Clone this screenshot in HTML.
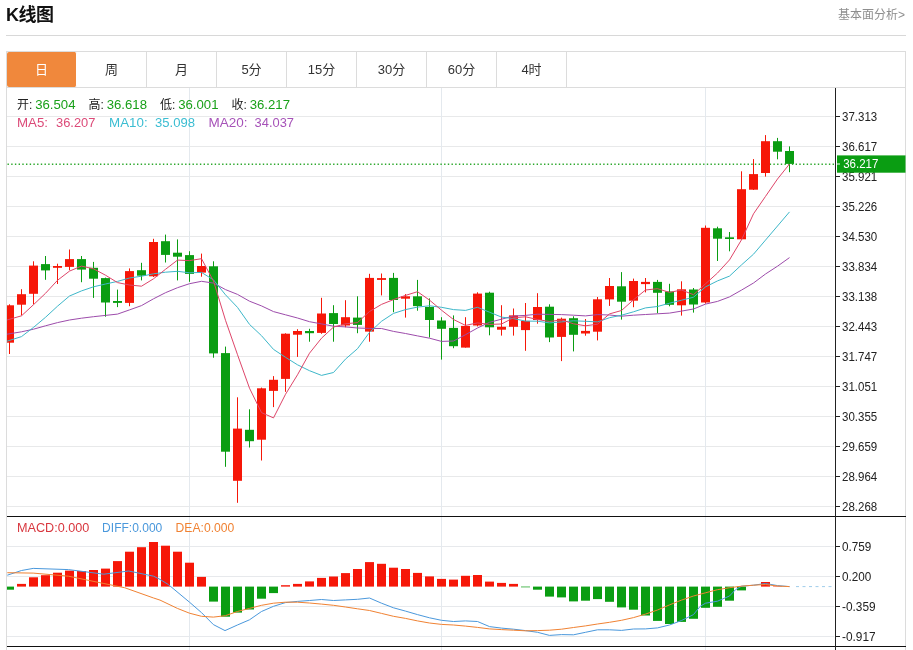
<!DOCTYPE html>
<html lang="zh-CN">
<head>
<meta charset="utf-8">
<title>K线图</title>
<style>
html,body{margin:0;padding:0;background:#fff;}
body{width:913px;height:650px;overflow:hidden;position:relative;font-family:"Liberation Sans","Noto Sans CJK SC",sans-serif;color:#333;}
.title{position:absolute;left:6px;top:2px;font-size:18px;font-weight:bold;color:#111;line-height:26px;letter-spacing:-0.5px;}
.more{position:absolute;right:8px;top:5.5px;font-size:12px;color:#8e8e8e;line-height:18px;}
.hr{position:absolute;left:6px;top:35px;width:900px;height:1px;background:#d8d8d8;}
.box{position:absolute;left:6px;top:51px;width:898px;height:620px;border:1px solid #dcdcdc;border-bottom:none;}
.tabs{position:absolute;left:7px;top:52px;width:898px;height:35px;border-bottom:1px solid #dcdcdc;}
.tab{float:left;width:69px;height:35px;line-height:35px;text-align:center;font-size:13px;color:#333;border-right:1px solid #dcdcdc;}
.tab.on{background:#f0883c;color:#fff;border-radius:2px;border-right-color:#fff;}
svg{position:absolute;left:0;top:0;}
.ax{font-size:12px;fill:#222;font-family:"Liberation Sans","Noto Sans CJK SC",sans-serif;}
.lg{font-size:13px;font-family:"Liberation Sans","Noto Sans CJK SC",sans-serif;}
</style>
</head>
<body>
<div class="title">K线图</div>
<div class="more">基本面分析&gt;</div>
<div class="hr"></div>
<div class="box"></div>
<div class="tabs"><div class="tab on">日</div><div class="tab">周</div><div class="tab">月</div><div class="tab">5分</div><div class="tab">15分</div><div class="tab">30分</div><div class="tab">60分</div><div class="tab">4时</div></div>
<svg width="913" height="650" viewBox="0 0 913 650">
<line x1="7" y1="116.5" x2="834" y2="116.5" stroke="#e8e9ea" stroke-width="1"/>
<line x1="7" y1="146.5" x2="834" y2="146.5" stroke="#e8e9ea" stroke-width="1"/>
<line x1="7" y1="176.5" x2="834" y2="176.5" stroke="#e8e9ea" stroke-width="1"/>
<line x1="7" y1="206.5" x2="834" y2="206.5" stroke="#e8e9ea" stroke-width="1"/>
<line x1="7" y1="236.5" x2="834" y2="236.5" stroke="#e8e9ea" stroke-width="1"/>
<line x1="7" y1="266.5" x2="834" y2="266.5" stroke="#e8e9ea" stroke-width="1"/>
<line x1="7" y1="296.5" x2="834" y2="296.5" stroke="#e8e9ea" stroke-width="1"/>
<line x1="7" y1="326.5" x2="834" y2="326.5" stroke="#e8e9ea" stroke-width="1"/>
<line x1="7" y1="356.5" x2="834" y2="356.5" stroke="#e8e9ea" stroke-width="1"/>
<line x1="7" y1="386.5" x2="834" y2="386.5" stroke="#e8e9ea" stroke-width="1"/>
<line x1="7" y1="416.5" x2="834" y2="416.5" stroke="#e8e9ea" stroke-width="1"/>
<line x1="7" y1="446.5" x2="834" y2="446.5" stroke="#e8e9ea" stroke-width="1"/>
<line x1="7" y1="476.5" x2="834" y2="476.5" stroke="#e8e9ea" stroke-width="1"/>
<line x1="7" y1="506.5" x2="834" y2="506.5" stroke="#e8e9ea" stroke-width="1"/>
<line x1="7" y1="546.5" x2="834" y2="546.5" stroke="#e7e9ec" stroke-width="1"/>
<line x1="7" y1="576.5" x2="834" y2="576.5" stroke="#e7e9ec" stroke-width="1"/>
<line x1="7" y1="606.5" x2="834" y2="606.5" stroke="#e7e9ec" stroke-width="1"/>
<line x1="7" y1="636.5" x2="834" y2="636.5" stroke="#e7e9ec" stroke-width="1"/>
<line x1="189.5" y1="88" x2="189.5" y2="650" stroke="#e4e9ee" stroke-width="1"/>
<line x1="441.5" y1="88" x2="441.5" y2="650" stroke="#e4e9ee" stroke-width="1"/>
<line x1="705.5" y1="88" x2="705.5" y2="650" stroke="#e4e9ee" stroke-width="1"/>
<line x1="7.5" y1="164.2" x2="834" y2="164.2" stroke="#2da82d" stroke-width="1.4" stroke-dasharray="1.4 2.3"/>
<rect x="9" y="304.3" width="1" height="49.7" fill="#f61708"/>
<rect x="7" y="305.3" width="7" height="37.4" fill="#f61708"/>
<rect x="21" y="289.2" width="1" height="26.2" fill="#f61708"/>
<rect x="17" y="294.2" width="9" height="10.5" fill="#f61708"/>
<rect x="33" y="261.3" width="1" height="43.0" fill="#f61708"/>
<rect x="29" y="265.6" width="9" height="28.2" fill="#f61708"/>
<rect x="45" y="256.0" width="1" height="23.8" fill="#0a9d12"/>
<rect x="41" y="264.1" width="9" height="6.3" fill="#0a9d12"/>
<rect x="57" y="263.7" width="1" height="20.3" fill="#f61708"/>
<rect x="53" y="266.0" width="9" height="1.8" fill="#f61708"/>
<rect x="69" y="249.5" width="1" height="20.7" fill="#f61708"/>
<rect x="65" y="259.1" width="9" height="7.8" fill="#f61708"/>
<rect x="81" y="256.0" width="1" height="26.2" fill="#0a9d12"/>
<rect x="77" y="259.1" width="9" height="10.5" fill="#0a9d12"/>
<rect x="93" y="261.9" width="1" height="36.0" fill="#0a9d12"/>
<rect x="89" y="267.8" width="9" height="10.9" fill="#0a9d12"/>
<rect x="105" y="277.6" width="1" height="39.1" fill="#0a9d12"/>
<rect x="101" y="278.1" width="9" height="24.4" fill="#0a9d12"/>
<rect x="117" y="289.6" width="1" height="17.5" fill="#0a9d12"/>
<rect x="113" y="301.0" width="9" height="1.9" fill="#0a9d12"/>
<rect x="129" y="268.4" width="1" height="37.8" fill="#f61708"/>
<rect x="125" y="271.1" width="9" height="31.8" fill="#f61708"/>
<rect x="141" y="262.8" width="1" height="17.6" fill="#0a9d12"/>
<rect x="137" y="270.2" width="9" height="5.5" fill="#0a9d12"/>
<rect x="153" y="238.8" width="1" height="38.2" fill="#f61708"/>
<rect x="149" y="242.0" width="9" height="34.3" fill="#f61708"/>
<rect x="165" y="234.6" width="1" height="27.9" fill="#0a9d12"/>
<rect x="161" y="241.2" width="9" height="13.7" fill="#0a9d12"/>
<rect x="177" y="239.4" width="1" height="41.0" fill="#0a9d12"/>
<rect x="173" y="252.7" width="9" height="4.0" fill="#0a9d12"/>
<rect x="189" y="251.2" width="1" height="30.6" fill="#0a9d12"/>
<rect x="185" y="255.1" width="9" height="18.8" fill="#0a9d12"/>
<rect x="201" y="253.6" width="1" height="23.1" fill="#f61708"/>
<rect x="197" y="266.0" width="9" height="6.6" fill="#f61708"/>
<rect x="213" y="261.3" width="1" height="96.4" fill="#0a9d12"/>
<rect x="209" y="266.3" width="9" height="87.1" fill="#0a9d12"/>
<rect x="225" y="346.6" width="1" height="120.2" fill="#0a9d12"/>
<rect x="221" y="353.1" width="9" height="98.6" fill="#0a9d12"/>
<rect x="237" y="397.3" width="1" height="105.5" fill="#f61708"/>
<rect x="233" y="428.6" width="9" height="52.2" fill="#f61708"/>
<rect x="249" y="409.3" width="1" height="38.2" fill="#0a9d12"/>
<rect x="245" y="429.8" width="9" height="11.4" fill="#0a9d12"/>
<rect x="261" y="387.6" width="1" height="72.9" fill="#f61708"/>
<rect x="257" y="388.3" width="9" height="51.4" fill="#f61708"/>
<rect x="273" y="376.1" width="1" height="31.0" fill="#f61708"/>
<rect x="269" y="379.8" width="9" height="11.1" fill="#f61708"/>
<rect x="285" y="333.3" width="1" height="58.5" fill="#f61708"/>
<rect x="281" y="333.7" width="9" height="45.2" fill="#f61708"/>
<rect x="297" y="329.2" width="1" height="27.7" fill="#f61708"/>
<rect x="293" y="331.0" width="9" height="3.7" fill="#f61708"/>
<rect x="309" y="328.8" width="1" height="12.9" fill="#0a9d12"/>
<rect x="305" y="331.0" width="9" height="2.2" fill="#0a9d12"/>
<rect x="321" y="297.8" width="1" height="36.0" fill="#f61708"/>
<rect x="317" y="313.5" width="9" height="19.4" fill="#f61708"/>
<rect x="333" y="305.2" width="1" height="36.5" fill="#0a9d12"/>
<rect x="329" y="313.1" width="9" height="10.9" fill="#0a9d12"/>
<rect x="345" y="300.2" width="1" height="27.1" fill="#f61708"/>
<rect x="341" y="317.2" width="9" height="8.3" fill="#f61708"/>
<rect x="357" y="296.3" width="1" height="36.9" fill="#0a9d12"/>
<rect x="353" y="317.6" width="9" height="7.3" fill="#0a9d12"/>
<rect x="369" y="273.8" width="1" height="67.9" fill="#f61708"/>
<rect x="365" y="277.9" width="9" height="53.7" fill="#f61708"/>
<rect x="381" y="273.5" width="1" height="21.9" fill="#f61708"/>
<rect x="377" y="278.1" width="9" height="1.8" fill="#f61708"/>
<rect x="393" y="272.9" width="1" height="39.3" fill="#0a9d12"/>
<rect x="389" y="277.9" width="9" height="22.1" fill="#0a9d12"/>
<rect x="405" y="294.1" width="1" height="23.5" fill="#f61708"/>
<rect x="401" y="296.3" width="9" height="2.4" fill="#f61708"/>
<rect x="417" y="279.9" width="1" height="30.8" fill="#0a9d12"/>
<rect x="413" y="296.3" width="9" height="9.8" fill="#0a9d12"/>
<rect x="429" y="298.4" width="1" height="39.1" fill="#0a9d12"/>
<rect x="425" y="307.0" width="9" height="13.0" fill="#0a9d12"/>
<rect x="441" y="317.2" width="1" height="42.4" fill="#0a9d12"/>
<rect x="437" y="320.5" width="9" height="8.3" fill="#0a9d12"/>
<rect x="453" y="315.4" width="1" height="32.8" fill="#0a9d12"/>
<rect x="449" y="327.9" width="9" height="18.3" fill="#0a9d12"/>
<rect x="465" y="317.2" width="1" height="30.4" fill="#f61708"/>
<rect x="461" y="325.9" width="9" height="21.7" fill="#f61708"/>
<rect x="477" y="292.3" width="1" height="34.1" fill="#f61708"/>
<rect x="473" y="293.6" width="9" height="31.9" fill="#f61708"/>
<rect x="489" y="291.7" width="1" height="43.6" fill="#0a9d12"/>
<rect x="485" y="292.7" width="9" height="34.6" fill="#0a9d12"/>
<rect x="501" y="305.2" width="1" height="30.4" fill="#f61708"/>
<rect x="497" y="326.8" width="9" height="2.9" fill="#f61708"/>
<rect x="513" y="308.5" width="1" height="27.1" fill="#f61708"/>
<rect x="509" y="315.4" width="9" height="11.4" fill="#f61708"/>
<rect x="525" y="303.0" width="1" height="47.8" fill="#f61708"/>
<rect x="521" y="320.9" width="9" height="9.2" fill="#f61708"/>
<rect x="537" y="293.2" width="1" height="30.5" fill="#f61708"/>
<rect x="533" y="307.0" width="9" height="13.0" fill="#f61708"/>
<rect x="549" y="304.3" width="1" height="37.8" fill="#0a9d12"/>
<rect x="545" y="306.7" width="9" height="30.8" fill="#0a9d12"/>
<rect x="561" y="317.6" width="1" height="43.5" fill="#f61708"/>
<rect x="557" y="318.7" width="9" height="18.2" fill="#f61708"/>
<rect x="573" y="316.3" width="1" height="35.1" fill="#0a9d12"/>
<rect x="569" y="318.2" width="9" height="16.6" fill="#0a9d12"/>
<rect x="585" y="319.0" width="1" height="16.7" fill="#f61708"/>
<rect x="581" y="330.9" width="9" height="2.6" fill="#f61708"/>
<rect x="597" y="297.0" width="1" height="43.4" fill="#f61708"/>
<rect x="593" y="299.3" width="9" height="32.4" fill="#f61708"/>
<rect x="609" y="278.0" width="1" height="27.9" fill="#f61708"/>
<rect x="605" y="286.0" width="9" height="13.4" fill="#f61708"/>
<rect x="621" y="272.1" width="1" height="47.5" fill="#0a9d12"/>
<rect x="617" y="286.3" width="9" height="15.4" fill="#0a9d12"/>
<rect x="633" y="278.6" width="1" height="28.6" fill="#f61708"/>
<rect x="629" y="281.0" width="9" height="19.7" fill="#f61708"/>
<rect x="645" y="278.0" width="1" height="14.4" fill="#f61708"/>
<rect x="641" y="281.9" width="9" height="2.2" fill="#f61708"/>
<rect x="657" y="279.9" width="1" height="33.4" fill="#0a9d12"/>
<rect x="653" y="281.9" width="9" height="10.9" fill="#0a9d12"/>
<rect x="669" y="283.8" width="1" height="22.5" fill="#0a9d12"/>
<rect x="665" y="291.5" width="9" height="13.3" fill="#0a9d12"/>
<rect x="681" y="281.3" width="1" height="34.3" fill="#f61708"/>
<rect x="677" y="289.3" width="9" height="16.0" fill="#f61708"/>
<rect x="693" y="288.0" width="1" height="24.6" fill="#0a9d12"/>
<rect x="689" y="289.5" width="9" height="15.0" fill="#0a9d12"/>
<rect x="705" y="225.5" width="1" height="78.1" fill="#f61708"/>
<rect x="701" y="227.8" width="9" height="74.7" fill="#f61708"/>
<rect x="717" y="226.7" width="1" height="34.3" fill="#0a9d12"/>
<rect x="713" y="228.3" width="9" height="10.4" fill="#0a9d12"/>
<rect x="729" y="232.0" width="1" height="19.3" fill="#0a9d12"/>
<rect x="725" y="237.3" width="9" height="1.7" fill="#0a9d12"/>
<rect x="741" y="171.3" width="1" height="68.4" fill="#f61708"/>
<rect x="737" y="189.2" width="9" height="50.1" fill="#f61708"/>
<rect x="753" y="159.1" width="1" height="30.9" fill="#f61708"/>
<rect x="749" y="174.1" width="9" height="15.6" fill="#f61708"/>
<rect x="765" y="135.1" width="1" height="41.5" fill="#f61708"/>
<rect x="761" y="141.2" width="9" height="31.8" fill="#f61708"/>
<rect x="777" y="137.9" width="1" height="21.4" fill="#0a9d12"/>
<rect x="773" y="141.2" width="9" height="10.5" fill="#0a9d12"/>
<rect x="789" y="146.4" width="1" height="25.8" fill="#0a9d12"/>
<rect x="785" y="151.0" width="9" height="12.9" fill="#0a9d12"/>
<path d="M7.0 334.2L21.5 331.8L33.5 329.2L45.5 325.8L57.5 322.6L69.5 320.0L81.5 318.2L93.5 316.7L105.5 315.4L117.5 314.1L129.5 309.9L141.5 305.6L153.5 298.8L165.5 292.7L177.5 287.7L189.5 283.7L201.5 281.3L213.5 283.1L225.5 289.6L237.5 294.4L249.5 301.2L261.5 305.9L273.5 311.6L285.5 314.8L297.5 318.0L309.5 321.7L321.5 323.9L333.5 326.2L345.5 326.9L357.5 328.0L369.5 328.4L381.5 328.5L393.5 331.4L405.5 333.5L417.5 335.9L429.5 338.2L441.5 341.4L453.5 341.0L465.5 334.7L477.5 328.0L489.5 322.3L501.5 319.2L513.5 316.0L525.5 315.4L537.5 314.2L549.5 314.4L561.5 314.6L573.5 315.2L585.5 315.9L597.5 314.6L609.5 315.0L621.5 316.2L633.5 315.2L645.5 314.5L657.5 313.8L669.5 313.1L681.5 311.1L693.5 309.0L705.5 304.1L717.5 301.4L729.5 296.9L741.5 290.1L753.5 283.0L765.5 274.0L777.5 266.2L789.5 257.6" fill="none" stroke="#9d4cab" stroke-width="1" stroke-linejoin="round"/>
<path d="M7.0 341.2L21.5 336.6L33.5 327.4L45.5 317.3L57.5 306.2L69.5 296.0L81.5 290.9L93.5 286.8L105.5 284.0L117.5 281.4L129.5 278.0L141.5 276.2L153.5 273.8L165.5 272.2L177.5 271.3L189.5 272.8L201.5 272.4L213.5 279.9L225.5 294.8L237.5 307.4L249.5 324.4L261.5 335.7L273.5 349.4L285.5 357.3L297.5 364.8L309.5 370.7L321.5 375.4L333.5 372.5L345.5 359.1L357.5 348.7L369.5 332.4L381.5 321.3L393.5 313.4L405.5 309.6L417.5 307.1L429.5 305.8L441.5 307.3L453.5 309.6L465.5 310.4L477.5 307.3L489.5 312.2L501.5 317.1L513.5 318.6L525.5 321.1L537.5 321.2L549.5 322.9L561.5 321.9L573.5 320.8L585.5 321.3L597.5 321.9L609.5 317.7L621.5 315.2L633.5 311.8L645.5 307.9L657.5 306.5L669.5 303.2L681.5 300.2L693.5 297.2L705.5 286.9L717.5 280.9L729.5 276.1L741.5 264.9L753.5 254.2L765.5 240.1L777.5 226.0L789.5 211.9" fill="none" stroke="#3db7c9" stroke-width="1" stroke-linejoin="round"/>
<path d="M7.0 320.0L21.5 315.8L33.5 304.7L45.5 293.3L57.5 280.3L69.5 271.1L81.5 266.1L93.5 268.8L105.5 275.2L117.5 282.6L129.5 285.0L141.5 286.2L153.5 278.8L165.5 269.3L177.5 260.1L189.5 260.6L201.5 258.7L213.5 281.0L225.5 320.3L237.5 354.7L249.5 388.2L261.5 412.6L273.5 417.9L285.5 394.3L297.5 374.8L309.5 353.2L321.5 338.2L333.5 327.1L345.5 323.8L357.5 322.6L369.5 311.5L381.5 304.4L393.5 299.6L405.5 295.4L417.5 291.7L429.5 300.1L441.5 310.2L453.5 319.5L465.5 325.4L477.5 322.9L489.5 324.4L501.5 324.0L513.5 317.8L525.5 316.8L537.5 319.5L549.5 321.5L561.5 319.9L573.5 323.8L585.5 325.8L597.5 324.2L609.5 313.9L621.5 310.5L633.5 299.8L645.5 290.0L657.5 288.7L669.5 292.4L681.5 290.0L693.5 294.7L705.5 283.8L717.5 273.0L729.5 259.9L741.5 239.8L753.5 213.8L765.5 196.4L777.5 179.0L789.5 164.0" fill="none" stroke="#de4569" stroke-width="1" stroke-linejoin="round"/>
<rect x="7" y="586.6" width="7" height="3.1" fill="#0a9d12"/>
<rect x="17" y="583.9" width="9" height="2.7" fill="#f61708"/>
<rect x="29" y="577.3" width="9" height="9.3" fill="#f61708"/>
<rect x="41" y="575.2" width="9" height="11.4" fill="#f61708"/>
<rect x="53" y="572.7" width="9" height="13.9" fill="#f61708"/>
<rect x="65" y="570.6" width="9" height="16.0" fill="#f61708"/>
<rect x="77" y="571.0" width="9" height="15.6" fill="#f61708"/>
<rect x="89" y="570.0" width="9" height="16.6" fill="#f61708"/>
<rect x="101" y="568.6" width="9" height="18.0" fill="#f61708"/>
<rect x="113" y="561.1" width="9" height="25.5" fill="#f61708"/>
<rect x="125" y="551.7" width="9" height="34.9" fill="#f61708"/>
<rect x="137" y="547.2" width="9" height="39.4" fill="#f61708"/>
<rect x="149" y="542.0" width="9" height="44.6" fill="#f61708"/>
<rect x="161" y="545.7" width="9" height="40.9" fill="#f61708"/>
<rect x="173" y="551.7" width="9" height="34.9" fill="#f61708"/>
<rect x="185" y="562.7" width="9" height="23.9" fill="#f61708"/>
<rect x="197" y="576.9" width="9" height="9.7" fill="#f61708"/>
<rect x="209" y="586.6" width="9" height="15.0" fill="#0a9d12"/>
<rect x="221" y="586.6" width="9" height="30.1" fill="#0a9d12"/>
<rect x="233" y="586.6" width="9" height="26.0" fill="#0a9d12"/>
<rect x="245" y="586.6" width="9" height="22.9" fill="#0a9d12"/>
<rect x="257" y="586.6" width="9" height="12.1" fill="#0a9d12"/>
<rect x="269" y="586.6" width="9" height="6.5" fill="#0a9d12"/>
<rect x="281" y="585.2" width="9" height="1.4" fill="#f61708"/>
<rect x="293" y="583.9" width="9" height="2.7" fill="#f61708"/>
<rect x="305" y="581.4" width="9" height="5.2" fill="#f61708"/>
<rect x="317" y="577.9" width="9" height="8.7" fill="#f61708"/>
<rect x="329" y="576.5" width="9" height="10.1" fill="#f61708"/>
<rect x="341" y="573.1" width="9" height="13.5" fill="#f61708"/>
<rect x="353" y="569.0" width="9" height="17.6" fill="#f61708"/>
<rect x="365" y="562.1" width="9" height="24.5" fill="#f61708"/>
<rect x="377" y="563.8" width="9" height="22.8" fill="#f61708"/>
<rect x="389" y="567.7" width="9" height="18.9" fill="#f61708"/>
<rect x="401" y="569.0" width="9" height="17.6" fill="#f61708"/>
<rect x="413" y="572.9" width="9" height="13.7" fill="#f61708"/>
<rect x="425" y="576.4" width="9" height="10.2" fill="#f61708"/>
<rect x="437" y="578.9" width="9" height="7.7" fill="#f61708"/>
<rect x="449" y="579.6" width="9" height="7.0" fill="#f61708"/>
<rect x="461" y="575.8" width="9" height="10.8" fill="#f61708"/>
<rect x="473" y="575.0" width="9" height="11.6" fill="#f61708"/>
<rect x="485" y="581.6" width="9" height="5.0" fill="#f61708"/>
<rect x="497" y="582.9" width="9" height="3.7" fill="#f61708"/>
<rect x="509" y="583.9" width="9" height="2.7" fill="#f61708"/>
<rect x="521" y="586.6" width="9" height="0.7" fill="#0a9d12"/>
<rect x="533" y="586.6" width="9" height="3.1" fill="#0a9d12"/>
<rect x="545" y="586.6" width="9" height="10.0" fill="#0a9d12"/>
<rect x="557" y="586.6" width="9" height="10.8" fill="#0a9d12"/>
<rect x="569" y="586.6" width="9" height="14.8" fill="#0a9d12"/>
<rect x="581" y="586.6" width="9" height="14.1" fill="#0a9d12"/>
<rect x="593" y="586.6" width="9" height="12.5" fill="#0a9d12"/>
<rect x="605" y="586.6" width="9" height="15.2" fill="#0a9d12"/>
<rect x="617" y="586.6" width="9" height="20.8" fill="#0a9d12"/>
<rect x="629" y="586.6" width="9" height="23.1" fill="#0a9d12"/>
<rect x="641" y="586.6" width="9" height="28.9" fill="#0a9d12"/>
<rect x="653" y="586.6" width="9" height="34.3" fill="#0a9d12"/>
<rect x="665" y="586.6" width="9" height="37.4" fill="#0a9d12"/>
<rect x="677" y="586.6" width="9" height="35.3" fill="#0a9d12"/>
<rect x="689" y="586.6" width="9" height="32.2" fill="#0a9d12"/>
<rect x="701" y="586.6" width="9" height="21.2" fill="#0a9d12"/>
<rect x="713" y="586.6" width="9" height="20.2" fill="#0a9d12"/>
<rect x="725" y="586.6" width="9" height="14.1" fill="#0a9d12"/>
<rect x="737" y="586.6" width="9" height="3.8" fill="#0a9d12"/>
<rect x="761" y="582.0" width="9" height="4.6" fill="#f61708"/>
<rect x="773" y="586.2" width="9" height="0.4" fill="#f61708"/>
<line x1="796" y1="586.6" x2="833" y2="586.6" stroke="#9fcdea" stroke-width="1" stroke-dasharray="3 3.5"/>
<path d="M7.3 575.2L21.5 570.5L33.2 568.4L68.5 569.6L103.8 574.2L128.7 571.0L153.6 576.2L160.0 579.4L168.3 584.5L189.5 602.2L201.5 612.6L213.4 624.6L225.0 630.6L237.4 625.0L249.5 619.8L261.5 611.5L273.5 606.3L285.4 602.6L297.4 601.4L309.5 600.5L321.5 599.5L333.5 600.5L345.5 599.9L357.5 599.3L369.5 598.0L381.5 603.2L393.5 607.8L405.5 611.1L417.5 614.6L429.5 617.8L441.5 620.3L453.5 621.5L465.5 620.9L477.5 621.5L489.5 626.6L501.5 628.1L513.5 629.2L525.5 630.6L537.5 632.3L549.5 635.4L561.5 634.6L573.5 634.8L585.5 632.3L597.5 629.8L609.5 629.8L621.5 630.4L633.5 629.0L645.5 628.9L657.5 627.9L669.5 625.0L681.5 620.5L693.5 614.6L700.2 606.3L705.5 603.2L717.5 601.2L729.5 596.0L735.5 589.7L741.5 586.2L753.5 585.2L765.5 583.5L777.5 585.6L789.5 586.6" fill="none" stroke="#4a98dc" stroke-width="1" stroke-linejoin="round"/>
<path d="M7.3 572.7L33.2 573.1L68.5 576.2L103.8 583.5L124.6 587.7L153.6 598.0L160.0 600.1L177.4 608.4L189.5 613.2L201.5 616.3L213.4 617.1L225.4 615.7L237.4 611.5L249.5 608.4L261.5 605.3L273.5 603.2L285.4 602.2L297.4 602.2L309.5 603.0L321.5 604.1L333.5 605.3L345.5 607.0L357.5 608.8L369.5 610.5L381.5 613.4L393.5 616.3L405.5 618.4L417.5 620.9L429.5 623.0L441.5 624.4L453.5 625.0L465.5 626.1L477.5 627.4L489.5 628.9L501.5 629.6L513.5 630.2L525.5 630.8L537.5 630.6L549.5 630.2L561.5 629.2L573.5 627.5L585.5 625.9L597.5 624.0L609.5 622.3L621.5 620.3L633.5 617.6L645.5 614.1L657.5 610.0L669.5 604.9L681.5 600.1L693.5 596.0L705.5 592.8L717.5 589.7L729.5 587.7L741.5 586.2L753.5 585.2L765.5 584.5L777.5 586.0L789.5 586.6" fill="none" stroke="#f08233" stroke-width="1" stroke-linejoin="round"/>
<rect x="7" y="516" width="899" height="1" fill="#111"/>
<rect x="7" y="646" width="899" height="1" fill="#111"/>
<rect x="835" y="88" width="1" height="562" fill="#222"/>
<rect x="836" y="116" width="4" height="1" fill="#222"/>
<text x="842" y="120.5" class="ax" textLength="35.2" lengthAdjust="spacingAndGlyphs">37.313</text>
<rect x="836" y="146" width="4" height="1" fill="#222"/>
<text x="842" y="150.5" class="ax" textLength="35.2" lengthAdjust="spacingAndGlyphs">36.617</text>
<rect x="836" y="176" width="4" height="1" fill="#222"/>
<text x="842" y="180.5" class="ax" textLength="35.2" lengthAdjust="spacingAndGlyphs">35.921</text>
<rect x="836" y="206" width="4" height="1" fill="#222"/>
<text x="842" y="210.5" class="ax" textLength="35.2" lengthAdjust="spacingAndGlyphs">35.226</text>
<rect x="836" y="236" width="4" height="1" fill="#222"/>
<text x="842" y="240.5" class="ax" textLength="35.2" lengthAdjust="spacingAndGlyphs">34.530</text>
<rect x="836" y="266" width="4" height="1" fill="#222"/>
<text x="842" y="270.5" class="ax" textLength="35.2" lengthAdjust="spacingAndGlyphs">33.834</text>
<rect x="836" y="296" width="4" height="1" fill="#222"/>
<text x="842" y="300.5" class="ax" textLength="35.2" lengthAdjust="spacingAndGlyphs">33.138</text>
<rect x="836" y="326" width="4" height="1" fill="#222"/>
<text x="842" y="330.5" class="ax" textLength="35.2" lengthAdjust="spacingAndGlyphs">32.443</text>
<rect x="836" y="356" width="4" height="1" fill="#222"/>
<text x="842" y="360.5" class="ax" textLength="35.2" lengthAdjust="spacingAndGlyphs">31.747</text>
<rect x="836" y="386" width="4" height="1" fill="#222"/>
<text x="842" y="390.5" class="ax" textLength="35.2" lengthAdjust="spacingAndGlyphs">31.051</text>
<rect x="836" y="416" width="4" height="1" fill="#222"/>
<text x="842" y="420.5" class="ax" textLength="35.2" lengthAdjust="spacingAndGlyphs">30.355</text>
<rect x="836" y="446" width="4" height="1" fill="#222"/>
<text x="842" y="450.5" class="ax" textLength="35.2" lengthAdjust="spacingAndGlyphs">29.659</text>
<rect x="836" y="476" width="4" height="1" fill="#222"/>
<text x="842" y="480.5" class="ax" textLength="35.2" lengthAdjust="spacingAndGlyphs">28.964</text>
<rect x="836" y="506" width="4" height="1" fill="#222"/>
<text x="842" y="510.5" class="ax" textLength="35.2" lengthAdjust="spacingAndGlyphs">28.268</text>
<rect x="836" y="546" width="4" height="1" fill="#222"/>
<text x="842" y="550.5" class="ax" textLength="29.3" lengthAdjust="spacingAndGlyphs">0.759</text>
<rect x="836" y="576" width="4" height="1" fill="#222"/>
<text x="842" y="580.5" class="ax" textLength="29.3" lengthAdjust="spacingAndGlyphs">0.200</text>
<rect x="836" y="606" width="4" height="1" fill="#222"/>
<text x="842" y="610.5" class="ax" textLength="33.6" lengthAdjust="spacingAndGlyphs">-0.359</text>
<rect x="836" y="636" width="4" height="1" fill="#222"/>
<text x="842" y="640.5" class="ax" textLength="33.6" lengthAdjust="spacingAndGlyphs">-0.917</text>
<rect x="837" y="155.4" width="68.5" height="17.3" fill="#0a9d12"/>
<line x1="836" y1="164" x2="840" y2="164" stroke="#fff" stroke-width="1"/>
<text x="843.2" y="168.4" class="ax" style="fill:#fff" textLength="35.2" lengthAdjust="spacingAndGlyphs">36.217</text>
<text y="108.5" class="lg"><tspan x="17.0" fill="#222" style="font-size:12px">开:</tspan><tspan x="35.2" fill="#19a019" textLength="40.3" lengthAdjust="spacingAndGlyphs">36.504</tspan><tspan x="88.5" fill="#222" style="font-size:12px">高:</tspan><tspan x="106.7" fill="#19a019" textLength="40.3" lengthAdjust="spacingAndGlyphs">36.618</tspan><tspan x="160.0" fill="#222" style="font-size:12px">低:</tspan><tspan x="178.2" fill="#19a019" textLength="40.3" lengthAdjust="spacingAndGlyphs">36.001</tspan><tspan x="231.5" fill="#222" style="font-size:12px">收:</tspan><tspan x="249.7" fill="#19a019" textLength="40.3" lengthAdjust="spacingAndGlyphs">36.217</tspan></text>
<text y="126.8" class="lg"><tspan x="17.0" fill="#dc4a78" textLength="31.0" lengthAdjust="spacingAndGlyphs">MA5:</tspan><tspan x="56.0" fill="#dc4a78" textLength="39.4" lengthAdjust="spacingAndGlyphs">36.207</tspan><tspan x="109.1" fill="#3bbdd2" textLength="38.6" lengthAdjust="spacingAndGlyphs">MA10:</tspan><tspan x="155.0" fill="#3bbdd2" textLength="40.0" lengthAdjust="spacingAndGlyphs">35.098</tspan><tspan x="208.4" fill="#a652b8" textLength="39.0" lengthAdjust="spacingAndGlyphs">MA20:</tspan><tspan x="254.6" fill="#a652b8" textLength="39.4" lengthAdjust="spacingAndGlyphs">34.037</tspan></text>
<text y="531.8" class="lg" style="font-size:12.5px"><tspan x="17" fill="#d8363e" textLength="72.3" lengthAdjust="spacingAndGlyphs">MACD:0.000</tspan><tspan x="102.1" fill="#4a98dc" textLength="60.2" lengthAdjust="spacingAndGlyphs">DIFF:0.000</tspan><tspan x="175.6" fill="#f08233" textLength="58.7" lengthAdjust="spacingAndGlyphs">DEA:0.000</tspan></text>
</svg>
</body>
</html>
